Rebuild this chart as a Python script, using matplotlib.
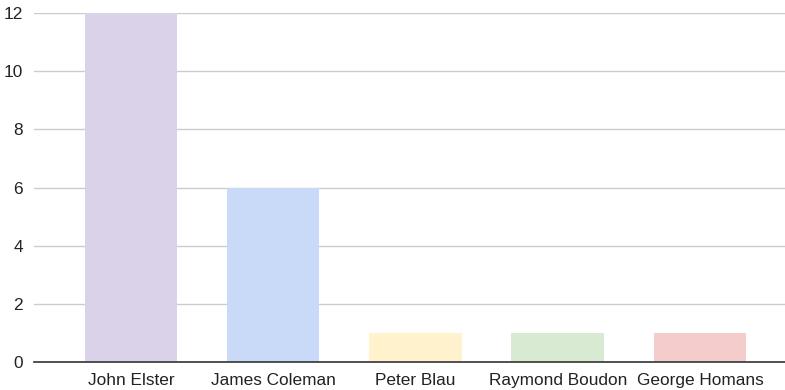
import matplotlib.pyplot as plt

names = ["John Elster", "James Coleman", "Peter Blau", "Raymond Boudon", "George Homans"]
counts = [12, 6, 1, 1, 1]
colors = ["#d9d2e9", "#c9daf8", "#fff2cc", "#d9ead3", "#f4cccc"]

plt.rcParams['font.family'] = ['Liberation Sans', 'DejaVu Sans']

fig = plt.figure(figsize=(7.85, 3.9), dpi=100)
ax = fig.add_axes([34/785, 28/390, (785-34)/785, (362-13)/390])

x = range(len(names))
ax.bar(x, counts, width=0.65, color=colors, zorder=2)

ax.set_ylim(0, 12)
ax.set_xlim(-0.682, 4.598)
ax.set_yticks([0, 2, 4, 6, 8, 10, 12])
ax.set_xticks(list(x))
ax.set_xticklabels(names)
ax.tick_params(axis='both', length=0, labelsize=12.4, colors="#222222")
ax.tick_params(axis='y', pad=8)
ax.tick_params(axis='x', pad=8)
ax.yaxis.grid(True, color="#cccccc", linewidth=1, zorder=0)
for s in ["left", "right", "top"]:
    ax.spines[s].set_visible(False)
ax.spines["bottom"].set_color("#333333")
ax.spines["bottom"].set_linewidth(1.2)
ax.spines["bottom"].set_zorder(3)

fig.savefig("out.png", dpi=100)
